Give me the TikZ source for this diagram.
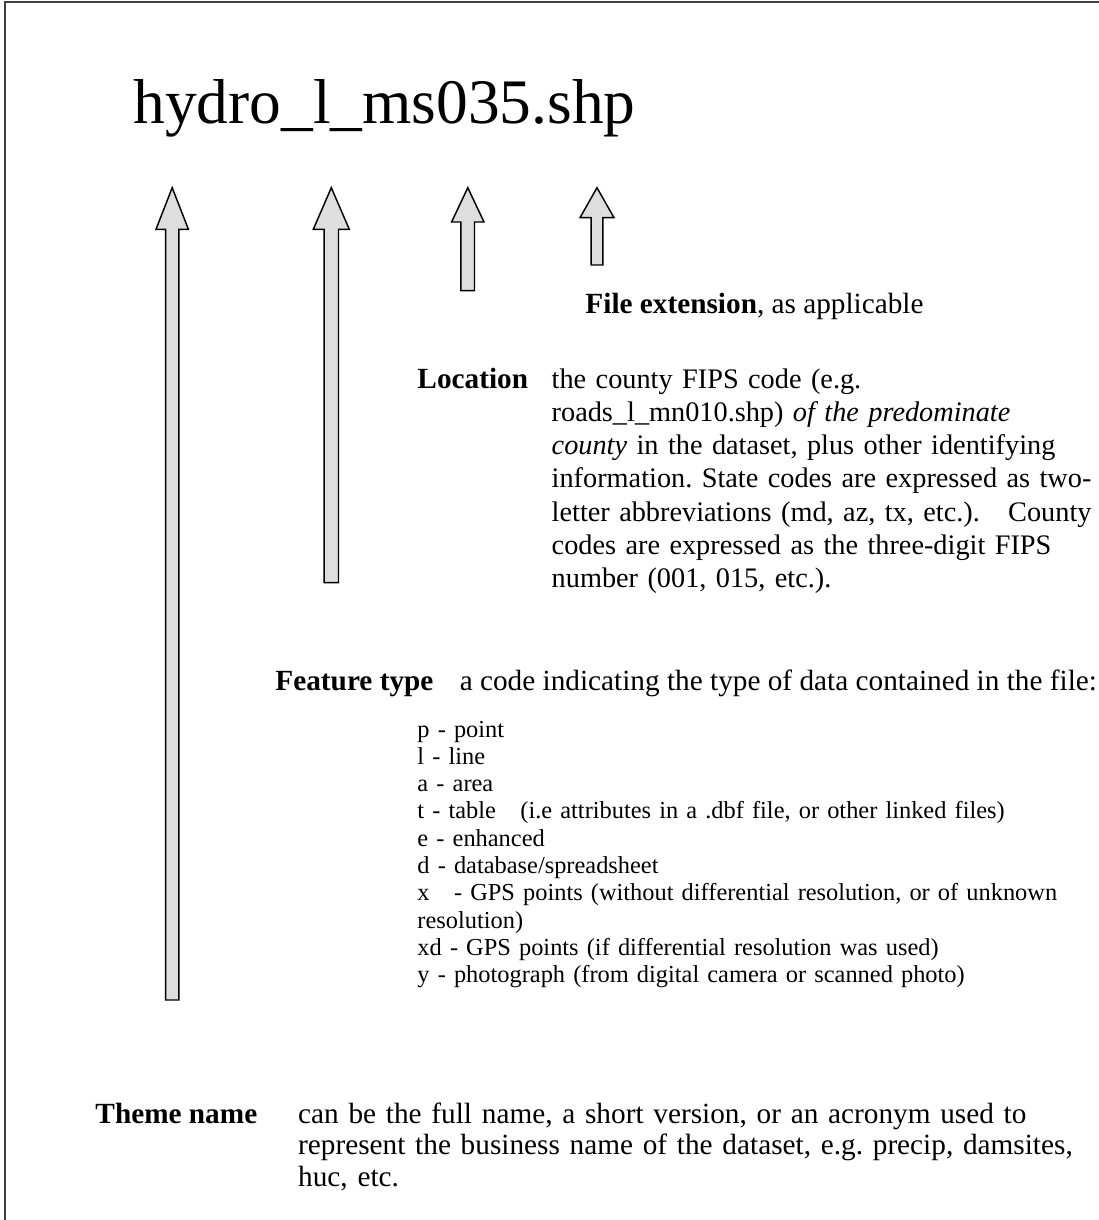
\documentclass[tikz,border=0pt]{standalone}
\usepackage{fontspec}
\setmainfont{Liberation Serif}
\usepackage{tikz}
\usetikzlibrary{positioning}
\frenchspacing

\begin{document}
\begin{tikzpicture}[
  x=0.41pt, y=-0.41pt,
  txt/.style={inner sep=0pt, anchor=base west, font=\fontsize{12}{13.6}\selectfont},
  para/.style={txt, text width=235pt, align=left},
  codelist/.style={txt, text width=300pt, align=left, font=\fontsize{10}{11.2}\selectfont},
  blockarrow/.style={draw=black, fill=black!13, line width=0.6pt, line join=miter}
]
\useasboundingbox (0,0) rectangle (1099,1220);
\draw[line width=0.6pt, black!75] (5,1220) -- (5,2) -- (1099,2);

\node[txt, font=\fontsize{26}{30}\selectfont] (title) at (133,123) {hydro\_l\_ms035.shp};

\filldraw[blockarrow] (165.6,1000) -- (165.6,229.3) -- (156,229.3) -- (172.2,187.7) -- (188.4,229.3) -- (178.8,229.3) -- (178.8,1000) -- cycle;
\filldraw[blockarrow] (324.1,582.7) -- (324.1,229.3) -- (313.3,229.3) -- (331.3,187.7) -- (349.3,229.3) -- (338.5,229.3) -- (338.5,582.7) -- cycle;
\filldraw[blockarrow] (460.9,290.7) -- (460.9,222) -- (451.6,222) -- (467.8,187.7) -- (484,222) -- (474.5,222) -- (474.5,290.7) -- cycle;
\filldraw[blockarrow] (591.1,265) -- (591.1,217.7) -- (580,217.7) -- (597,187.7) -- (614,217.7) -- (602.9,217.7) -- (602.9,265) -- cycle;

\node[txt] (ext) at (585,313) {\textbf{File extension}, as applicable};

\node[txt] (loc) at (417,388) {\textbf{Location}};
\node[para, font=\fontsize{11.6}{13.65}\selectfont, base right=9.3pt of loc] (locdesc) {the county FIPS code (e.g.\\
roads\_l\_mn010.shp) \textit{of the predominate}\\
\textit{county} in the dataset, plus other identifying\\
information. State codes are expressed as two-\\
letter abbreviations (md, az, tx, etc.).~~ County\\
codes are expressed as the three-digit FIPS\\
number (001, 015, etc.).};

\node[txt] (feat) at (275,690) {\textbf{Feature type}};
\node[txt, base right=10.4pt of feat] (featdesc) {a code indicating the type of data contained in the file:};
\node[codelist] (featlist) at (417,737) {p - point\\
l - line\\
a - area\\
t - table~~~(i.e attributes in a .dbf file, or other linked files)\\
e - enhanced\\
d - database/spreadsheet\\
x~~~- GPS points (without differential resolution, or of unknown\\
resolution)\\
xd - GPS points (if differential resolution was used)\\
y - photograph (from digital camera or scanned photo)};

\node[txt] (theme) at (95,1123) {\textbf{Theme name}};
\node[para, text width=330pt, font=\fontsize{12}{13}\selectfont, base right=16.4pt of theme] (themedesc) {can be the full name, a short version, or an acronym used to\\
represent the business name of the dataset, e.g. precip, damsites,\\
huc, etc.};

\end{tikzpicture}
\end{document}
